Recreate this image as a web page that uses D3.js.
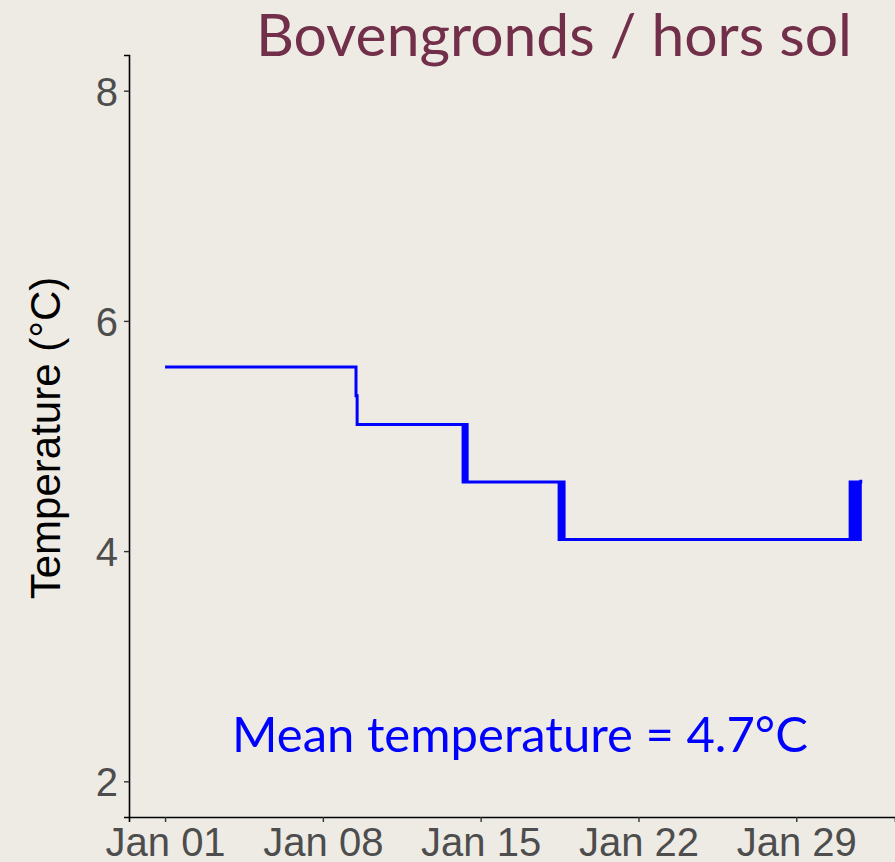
<!DOCTYPE html>
<html>
<head>
<meta charset="utf-8">
<script src="https://cdn.jsdelivr.net/npm/d3@7"></script>
<style>
  html, body { margin: 0; padding: 0; background: #eeebe5; }
  svg { display: block; }
</style>
</head>
<body>
<div id="chart"></div>
<script>
const w = 895;
const h = 862;

// logger readings: day offset from Jan 01 00:00 and temperature (°C)
const dayOffsets = [0, 8.47, 8.52,
	13.22, 13.26, 13.30, 13.34, 13.40,
	17.48, 17.53, 17.58, 17.63, 17.70,
	30.39, 30.45, 30.50, 30.56, 30.62, 30.68, 30.74, 30.80, 30.84, 30.86];
const temps = [5.6, 5.35, 5.1,
	4.6, 5.1, 4.6, 5.1, 4.6,
	4.1, 4.6, 4.1, 4.6, 4.1,
	4.6, 4.1, 4.6, 4.1, 4.6, 4.1, 4.6, 4.1, 4.6, 4.62];
const yTicks = [2, 4, 6, 8];
const xTickDays = [1, 8, 15, 22, 29];
const titleText = 'Bovengronds / hors sol';
const meanText = 'Mean temperature = 4.7°C';

const start = Date.UTC(2021, 0, 1);
const data = dayOffsets.map((d, i) => ({ t: new Date(start + d * 864e5), v: temps[i] }));

const margin = { left: 129, top: 55, right: 0, bottom: 45 };

const x = d3.scaleUtc()
	.domain([new Date(start - 1.6 * 864e5), new Date(start + 32.38 * 864e5)])
	.range([margin.left, w]);
const y = d3.scaleLinear()
	.domain([1.69, 8.31])
	.range([h - margin.bottom, margin.top]);

const svg = d3.select('#chart')
	.append('svg')
	.attr('width', w)
	.attr('height', h);

svg.append('rect')
	.attr('width', w)
	.attr('height', h)
	.attr('fill', '#eeebe5');

// y axis
const yAxis = svg.append('g')
	.attr('transform', 'translate(' + margin.left + ',0)')
	.call(d3.axisLeft(y).tickValues(yTicks).tickSize(5).tickPadding(6).tickFormat(d3.format('d')));
yAxis.select('.domain').attr('stroke', '#000').attr('stroke-width', 1.6);
yAxis.selectAll('.tick line').attr('stroke', '#333').attr('stroke-width', 1.4);
yAxis.selectAll('.tick text')
	.attr('fill', '#4d4d4d')
	.attr('font-family', 'Liberation Sans, Arial, sans-serif')
	.attr('font-size', 40)
	.attr('dy', '0.36em');

// x axis
const xAxis = svg.append('g')
	.attr('transform', 'translate(0,' + (h - margin.bottom) + ')')
	.call(d3.axisBottom(x)
		.tickValues(xTickDays.map(d => new Date(Date.UTC(2021, 0, d))))
		.tickSize(5).tickPadding(6)
		.tickFormat(d3.utcFormat('%b %d')));
xAxis.select('.domain').attr('stroke', '#000').attr('stroke-width', 1.6);
xAxis.selectAll('.tick line').attr('stroke', '#333').attr('stroke-width', 1.4);
xAxis.selectAll('.tick text')
	.attr('fill', '#4d4d4d')
	.attr('font-family', 'Liberation Sans, Arial, sans-serif')
	.attr('font-size', 40)
	.attr('dy', '0.71em');

// y axis title
svg.append('text')
	.attr('transform', 'translate(60,' + 438 + ') rotate(-90)')
	.attr('text-anchor', 'middle')
	.attr('font-family', 'Liberation Sans, Arial, sans-serif')
	.attr('font-size', 42)
	.attr('fill', '#000')
	.text('Temperature (°C)');

// temperature line
const line = d3.line()
	.x(d => x(d.t))
	.y(d => y(d.v))
	.curve(d3.curveStepAfter);

svg.append('path')
	.datum(data)
	.attr('d', line)
	.attr('fill', 'none')
	.attr('stroke', '#0000ff')
	.attr('stroke-width', 3);

// title
svg.append('text')
	.attr('x', 554)
	.attr('y', 56)
	.attr('text-anchor', 'middle')
	.attr('font-family', 'Lato, Open Sans, sans-serif')
	.attr('font-size', 58.8)
	.attr('fill', '#722f4a')
	.text(titleText);

// mean annotation
svg.append('text')
	.attr('x', 520)
	.attr('y', 752)
	.attr('text-anchor', 'middle')
	.attr('font-family', 'Lato, Open Sans, sans-serif')
	.attr('font-size', 49)
	.attr('fill', '#0000ff')
	.text(meanText);
</script>
</body>
</html>
